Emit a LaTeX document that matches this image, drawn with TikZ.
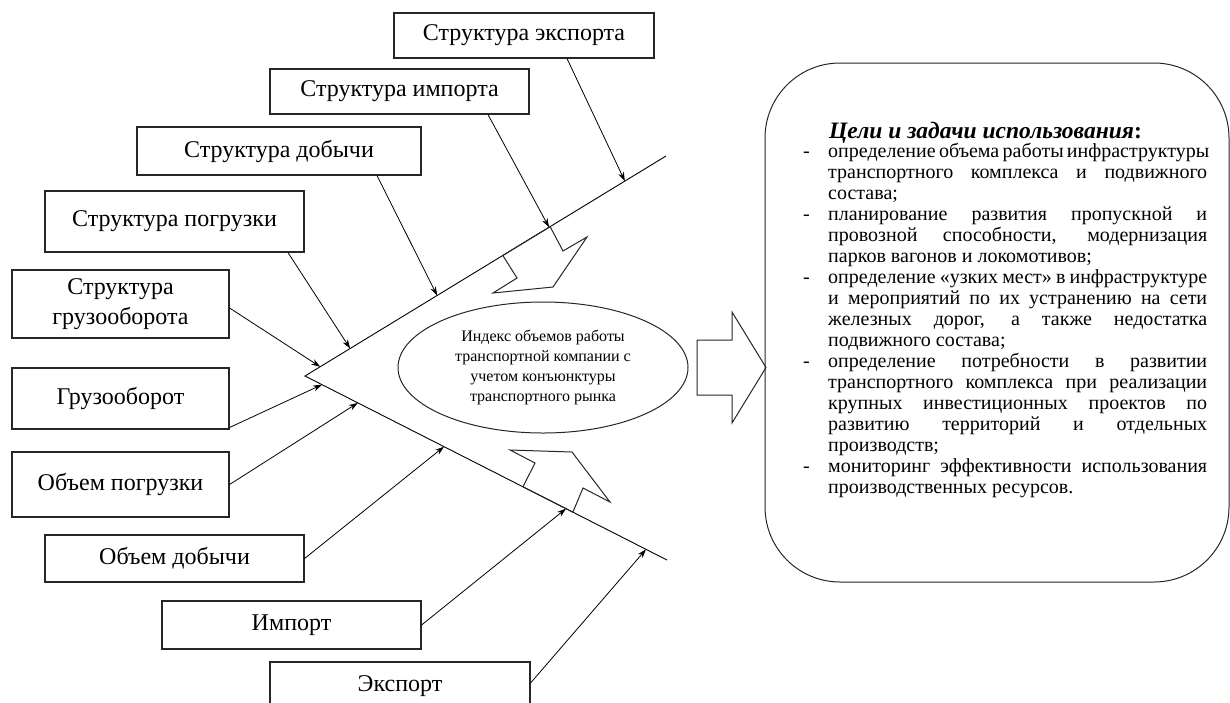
\documentclass[tikz,border=0pt]{standalone}
\usepackage{fontspec}
\setmainfont{Liberation Serif}
\newfontfamily\goalfont{Liberation Serif}
\usetikzlibrary{arrows.meta,calc,shapes.geometric}
\begin{document}
\begin{tikzpicture}[x=1pt,y=-1pt,
  fbox/.style={draw=black!85, line width=1.1pt, inner sep=0pt, align=center,
    font=\fontsize{24}{30}\selectfont},
  conn/.style={line width=0.8pt, -{Stealth[length=9pt,width=6pt]}},
  spine/.style={line width=0.9pt},
  outline/.style={line width=1pt, draw=black!85},
]
\clip (0,0) rectangle (1230,702);
% spine
\coordinate (apex) at (305,376);
\coordinate (uend) at (666,156);
\coordinate (lend) at (667,560);
\draw[spine] (uend) -- (apex) -- (lend);

% cause boxes
\node[fbox, minimum width=260pt, minimum height=45pt] (sexp) at (524,35.5) {Структура экспорта};
\node[fbox, minimum width=259pt, minimum height=45pt] (simp) at (399.5,91.5) {Структура импорта};
\node[fbox, minimum width=284pt, minimum height=48pt] (sdob) at (279,151) {Структура добычи};
\node[fbox, minimum width=259pt, minimum height=61pt] (spog) at (174.5,221.5) {Структура погрузки};
\node[fbox, minimum width=217pt, minimum height=68pt] (sgruz) at (120.5,304) {Структура\\грузооборота};
\node[fbox, minimum width=217pt, minimum height=61pt] (gruz) at (120.5,398.5) {Грузооборот};
\node[fbox, minimum width=217pt, minimum height=65pt] (opog) at (120.5,484.5) {Объем погрузки};
\node[fbox, minimum width=259pt, minimum height=47pt] (odob) at (174.5,558.5) {Объем добычи};
\node[fbox, minimum width=259pt, minimum height=48pt] (imp) at (291.5,625) {Импорт};
\node[fbox, minimum width=260pt, minimum height=48pt] (exp) at (400,686) {Экспорт};

% targets on spine
\coordinate (t1) at ($(apex)!0.886!(uend)$);
\coordinate (t2) at ($(apex)!0.676!(uend)$);
\coordinate (t3) at ($(apex)!0.366!(uend)$);
\coordinate (t4) at ($(apex)!0.125!(uend)$);
\coordinate (t5) at ($(apex)!0.042!(uend)$);
\coordinate (b1) at ($(apex)!0.047!(lend)$);
\coordinate (b2) at ($(apex)!0.146!(lend)$);
\coordinate (b3) at ($(apex)!0.384!(lend)$);
\coordinate (b4) at ($(apex)!0.721!(lend)$);
\coordinate (b5) at ($(apex)!0.942!(lend)$);

\draw[conn] ([xshift=43pt]sexp.south) -- (t1);
\draw[conn] ([xshift=88.5pt]simp.south) -- (t2);
\draw[conn] ([xshift=98pt]sdob.south) -- (t3);
\draw[conn] ([xshift=113.5pt]spog.south) -- (t4);
\draw[conn] ([yshift=-4pt]sgruz.east) -- (t5);
\draw[conn] ([yshift=-29pt]gruz.east) -- (b1);
\draw[conn] (opog.east) -- (b2);
\draw[conn] (odob.east) -- (b3);
\draw[conn] (imp.east) -- (b4);
\draw[conn] ([yshift=3pt]exp.east) -- (b5);

% small block arrows on spine
\coordinate (ua1) at ($(apex)!0.548!(uend)$);
\coordinate (ua2) at ($(apex)!0.679!(uend)$);
\draw[outline] (ua1) -- (517,278) -- (493,293) -- (553,287) -- (587,237) -- (563,251) -- (ua2) -- cycle;
\coordinate (la1) at ($(apex)!0.602!(lend)$);
\coordinate (la2) at ($(apex)!0.740!(lend)$);
\draw[outline] (la1) -- (535,463) -- (510,450) -- (572,452) -- (610,502) -- (583,488) -- (la2) -- cycle;

% central ellipse
\node[ellipse, outline, minimum width=290pt, minimum height=131pt, inner sep=0pt, align=center,
  font=\fontsize{16}{20}\selectfont] (idx) at (543,367.5)
  {Индекс объемов работы\\транспортной компании с\\учетом конъюнктуры\\транспортного рынка};

% big block arrow
\draw[outline] (697,340) -- (732,340) -- (732,312) -- (766,367.5) -- (732,423) -- (732,395) -- (697,395) -- cycle;

% goals box
\node[outline, rounded corners=75pt, minimum width=464pt, minimum height=519pt, inner sep=0pt] (goalbox) at (997,322.5) {};
\node[anchor=base west, inner sep=0pt, font=\fontsize{23.5}{27}\selectfont\bfseries\itshape] (title) at (829,138)
  {Цели и задачи использования{\upshape :}};
\node[anchor=north west, inner sep=0pt, align=left, font=\goalfont\fontsize{20}{21}\selectfont] (goals) at (803,142.5) {%
\makebox[25pt][l]{-}\makebox[379pt][s]{определение объема работы инфраструктуры}\\
\hspace*{25pt}\makebox[379pt][s]{транспортного комплекса и подвижного}\\
\hspace*{25pt}состава;\\
\makebox[25pt][l]{-}\makebox[379pt][s]{планирование развития пропускной и}\\
\hspace*{25pt}\makebox[379pt][s]{провозной способности, модернизация}\\
\hspace*{25pt}парков вагонов и локомотивов;\\
\makebox[25pt][l]{-}\makebox[379pt][s]{определение «узких мест» в инфраструктуре}\\
\hspace*{25pt}\makebox[379pt][s]{и мероприятий по их устранению на сети}\\
\hspace*{25pt}\makebox[379pt][s]{железных дорог, а также недостатка}\\
\hspace*{25pt}подвижного состава;\\
\makebox[25pt][l]{-}\makebox[379pt][s]{определение потребности в развитии}\\
\hspace*{25pt}\makebox[379pt][s]{транспортного комплекса при реализации}\\
\hspace*{25pt}\makebox[379pt][s]{крупных инвестиционных проектов по}\\
\hspace*{25pt}\makebox[379pt][s]{развитию территорий и отдельных}\\
\hspace*{25pt}производств;\\
\makebox[25pt][l]{-}\makebox[379pt][s]{мониторинг эффективности использования}\\
\hspace*{25pt}производственных ресурсов.};
\end{tikzpicture}
\end{document}
